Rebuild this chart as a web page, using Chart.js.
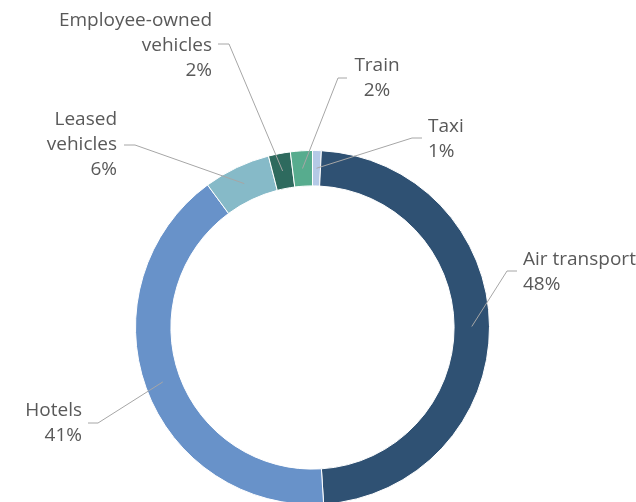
<!DOCTYPE html>
<html>
<head>
<meta charset="utf-8">
<script src="https://cdn.jsdelivr.net/npm/chart.js@4.4.1/dist/chart.umd.min.js"></script>
<style>
  html, body { margin: 0; padding: 0; background: #fff; overflow: hidden; }
  #wrap { position: absolute; left: 0; top: 0; width: 636px; height: 540px; }
</style>
</head>
<body>
<div id="wrap"><canvas id="chart"></canvas></div>
<script>
// data (clockwise from 12 o'clock)
const categories = ['Taxi', 'Air transport', 'Hotels', 'Leased vehicles', 'Employee-owned vehicles', 'Train'];
const shares = [0.8, 48.2, 40.9, 6.1, 2.0, 2.0];
const colors = ['#B4C9E6', '#2F5173', '#6892C9', '#86BAC8', '#2E6A5E', '#57AC8E'];

// where each data label sits and how its leader line bends
const labelLayout = [
    { lines: ['Taxi'], x: 428, y: 127, align: 'left', elbow: [[422, 138], [412, 138]] },
    { lines: ['Air transport'], x: 523, y: 260, align: 'left', elbow: [[517, 271], [507, 271]] },
    { lines: ['Hotels'], x: 82, y: 411, align: 'right', elbow: [[88, 423], [98, 423]] },
    { lines: ['Leased', 'vehicles'], x: 117, y: 120, align: 'right', elbow: [[124, 145], [135, 145]] },
    { lines: ['Employee-owned', 'vehicles'], x: 212, y: 21, align: 'right', elbow: [[218, 44], [229, 44]] },
    { lines: ['Train'], x: 377, y: 66, align: 'center', elbow: [[347, 78], [338, 78]] }
];

const labelFont = '19px "Open Sans"';
const lineGap = 25;

const calloutPlugin = {
    id: 'callouts',
    afterDatasetsDraw(chart) {
        const ctx = chart.ctx;
        const meta = chart.getDatasetMeta(0);
        const total = shares.reduce((a, b) => a + b, 0);
        ctx.save();
        labelLayout.forEach((lab, i) => {
            const arc = meta.data[i];
            const mid = (arc.startAngle + arc.endAngle) / 2;
            const r = (arc.innerRadius + arc.outerRadius) / 2;
            const px = arc.x + Math.cos(mid) * r;
            const py = arc.y + Math.sin(mid) * r;

            ctx.strokeStyle = '#A6A6A6';
            ctx.lineWidth = 1;
            ctx.beginPath();
            ctx.moveTo(lab.elbow[0][0], lab.elbow[0][1]);
            ctx.lineTo(lab.elbow[1][0], lab.elbow[1][1]);
            ctx.lineTo(px, py);
            ctx.stroke();

            ctx.fillStyle = '#595959';
            ctx.font = labelFont;
            ctx.textAlign = lab.align;
            ctx.textBaseline = 'middle';
            const pct = Math.round(shares[i] / total * 100) + '%';
            const lines = lab.lines.concat([pct]);
            lines.forEach((t, k) => {
                ctx.fillText(t, lab.x, lab.y + k * lineGap);
            });
        });
        ctx.restore();
    }
};

const chart = new Chart(document.getElementById('chart').getContext('2d'), {
    type: 'doughnut',
    data: {
        labels: categories,
        datasets: [{
            data: shares,
            backgroundColor: colors,
            borderColor: '#ffffff',
            borderWidth: 1
        }]
    },
    options: {
        responsive: true,
        maintainAspectRatio: false,
        animation: false,
        cutout: '80%',
        layout: { padding: { top: 150, bottom: 35, left: 135, right: 146 } },
        plugins: {
            legend: { display: false },
            tooltip: { enabled: false }
        }
    },
    plugins: [calloutPlugin]
});
</script>
</body>
</html>
